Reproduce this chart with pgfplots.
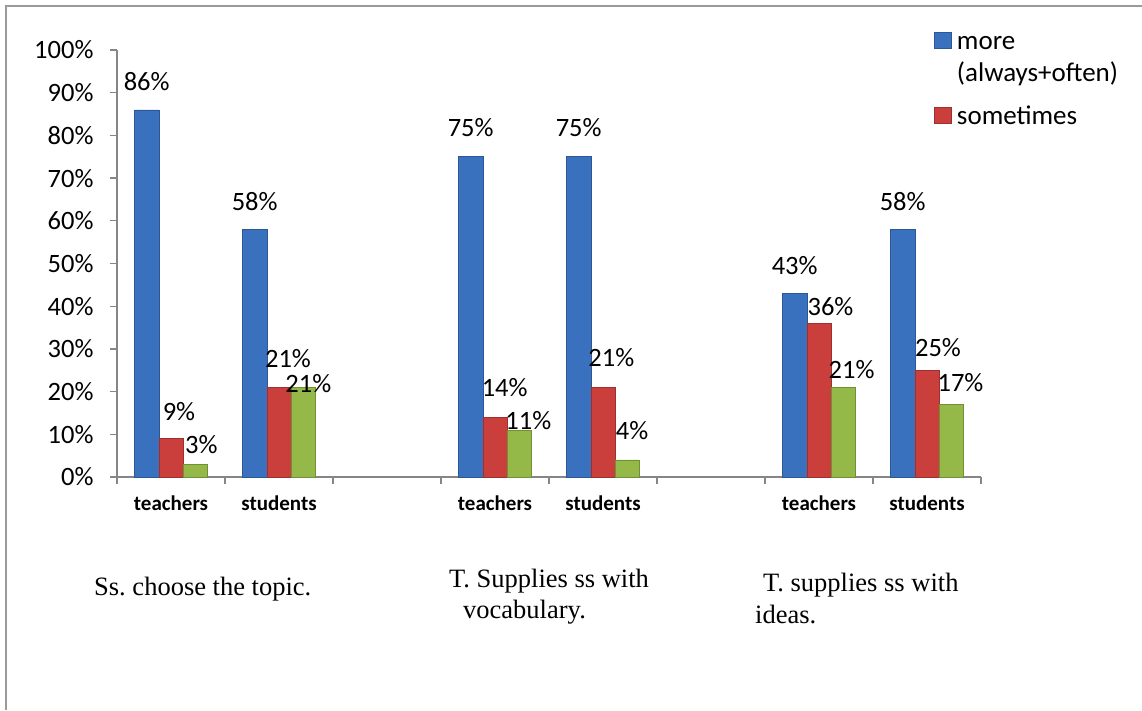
\documentclass[border=0pt]{standalone}
\usepackage{fontspec}
\setmainfont{Carlito}
\newfontfamily\timesfont{Liberation Serif}
\usepackage{pgfplots}
\pgfplotsset{compat=1.18}
\usepackage{pgfplotstable}
\frenchspacing
\definecolor{axisgray}{HTML}{868686}
\definecolor{framegray}{HTML}{9A9A9A}
\definecolor{bF}{HTML}{3A71BE}
\definecolor{bD}{HTML}{2C5895}
\definecolor{rF}{HTML}{CA3F3C}
\definecolor{rD}{HTML}{9E302D}
\definecolor{gF}{HTML}{94B948}
\definecolor{gD}{HTML}{718F34}
\pgfplotsset{sqlegend/.style={legend image code/.code={\draw[##1] (0pt,0.5pt) rectangle (16.5pt,17pt);}}}

\pgfplotstableread{
x y dx dy
0 86 0 28
1 58 0 28
3 75 0 29.5
4 75 0 29.5
6 43 0 28
7 58 0 27.7
}\blueTable
\pgfplotstableread{
x y dx dy
0 9 8 26.7
1 21 9 28.7
3 14 9.7 29.3
4 21 8.3 29.5
6 36 11.5 16.5
7 25 11 23
}\redTable
\pgfplotstableread{
x y dx dy
0 3 6 20
1 21 5 4
3 11 9 9
4 4 4.7 29.3
6 21 8.3 17.5
7 17 9.2 22.2
}\greenTable

\begin{document}
\begin{tikzpicture}
\useasboundingbox (0pt,0pt) rectangle (1142pt,710pt);
\draw[framegray, line width=1.5pt] (6pt,0pt) -- (6pt,704pt) -- (1142pt,704pt);
\begin{axis}[
  at={(117pt,233pt)}, anchor=south west,
  scale only axis, width=864pt, height=427pt,
  xmin=-0.5, xmax=7.5, ymin=0, ymax=100,
  clip=false,
  axis lines*=left,
  axis line style={draw=axisgray, line width=1.3pt},
  tick style={draw=axisgray, line width=1.3pt},
  tick align=outside,
  major tick length=7pt,
  ytick={0,10,...,100},
  yticklabels={0\%,10\%,20\%,30\%,40\%,50\%,60\%,70\%,80\%,90\%,100\%},
  yticklabel style={font=\fontsize{26.5}{31}\selectfont, xshift=-13pt},
  xtick={-0.5,0.5,...,7.5},
  xticklabels={},
  extra x ticks={0,1,3,4,6,7},
  extra x tick labels={teachers,students,teachers,students,teachers,students},
  extra x tick style={major tick length=0pt,
    tick label style={font=\fontsize{21}{25}\bfseries\selectfont, anchor=base, yshift=-33pt}},
  ybar=0pt, bar width=24.3pt,
  /pgf/number format/assume math mode=true,
  nodes near coords={\pgfmathprintnumber{\pgfplotspointmeta}\%},
  nodes near coords align={center},
  every node near coord/.append style={font=\fontsize{26.5}{31}\selectfont, text=black,
     xshift=\dx pt, yshift=\dy pt},
  visualization depends on={\thisrow{dx} \as \dx},
  visualization depends on={\thisrow{dy} \as \dy},
  legend style={at={(0.9459,1.0445)}, anchor=north west, draw=none, fill=none,
     inner sep=0pt, row sep=13pt, column sep=5.5pt,
     nodes={inner sep=0pt, anchor=base west, text height=18pt, font=\fontsize{27}{31}\selectfont}},
  legend cell align=left,
]
\addplot[draw=bD, line width=0.5pt, fill=bF, sqlegend]
  table[x=x,y=y] {\blueTable};
\addlegendentry{more}
\addlegendimage{empty legend}
\addlegendentry{(always+often)}
\addplot[draw=rD, line width=0.5pt, fill=rF, sqlegend]
  table[x=x,y=y] {\redTable};
\addlegendentry[text height=28pt]{sometimes}
\addplot[draw=gD, line width=0.5pt, fill=gF]
  table[x=x,y=y] {\greenTable};
\end{axis}
\node[anchor=base west, inner sep=0pt, font=\timesfont\fontsize{26.5}{31}\selectfont] at (94pt,115pt) {Ss. choose the topic.};
\node[anchor=base west, inner sep=0pt, font=\timesfont\fontsize{26.5}{31}\selectfont] at (449pt,123pt) {T. Supplies ss with};
\node[anchor=base west, inner sep=0pt, font=\timesfont\fontsize{26.5}{31}\selectfont] at (463pt,92pt) {vocabulary.};
\node[anchor=base west, inner sep=0pt, font=\timesfont\fontsize{26.5}{31}\selectfont] at (763pt,119pt) {T. supplies ss with};
\node[anchor=base west, inner sep=0pt, font=\timesfont\fontsize{26.5}{31}\selectfont] at (755pt,87pt) {ideas.};
\end{tikzpicture}
\end{document}
